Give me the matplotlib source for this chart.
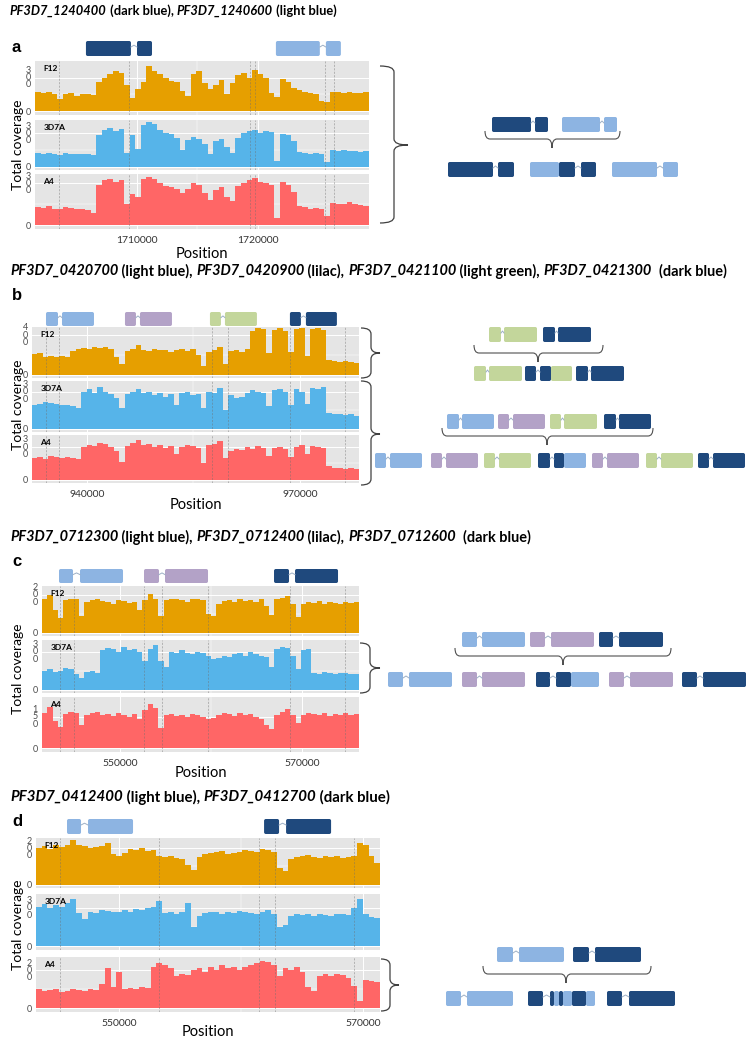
import numpy as np
import matplotlib.pyplot as plt
from matplotlib.patches import FancyBboxPatch, PathPatch
from matplotlib.path import Path

plt.rcParams['font.family'] = ['Lato', 'DejaVu Sans']

# coverage profiles (F12, 3D7A, A4)
a_f12 = [170, 160, 175, 150, 110, 150, 160, 140, 155, 150, 145, 260, 300, 330, 360, 340, 230, 120, 200, 260,
         400, 360, 330, 300, 270, 260, 180, 140, 330, 360, 250, 200, 230, 280, 150, 250, 320, 340, 300, 370,
         330, 300, 160, 130, 290, 260, 210, 190, 170, 160, 150, 90, 80, 170, 175, 165, 170, 160, 165, 170]
a_3d7a = [120, 115, 125, 110, 105, 120, 115, 110, 115, 110, 105, 280, 330, 350, 320, 340, 120, 280, 160, 370,
          400, 380, 330, 300, 290, 260, 150, 240, 270, 250, 200, 110, 230, 250, 180, 120, 260, 300, 320, 330,
          300, 320, 310, 50, 290, 280, 230, 130, 120, 110, 125, 110, 40, 150, 145, 150, 140, 145, 135, 140]
a_a4 = [130, 125, 135, 120, 115, 130, 125, 120, 120, 110, 90, 290, 320, 330, 310, 320, 150, 220, 200, 330,
        345, 330, 300, 280, 270, 260, 230, 260, 300, 290, 230, 180, 250, 270, 200, 170, 280, 300, 320, 340,
        310, 300, 290, 55, 310, 290, 240, 140, 130, 120, 125, 115, 70, 160, 155, 150, 165, 150, 145, 140]

b_f12 = [210, 220, 180, 190, 175, 185, 180, 240, 260, 270, 260, 280, 265, 275, 260, 180, 110, 240, 260, 300,
         250, 240, 260, 250, 245, 230, 250, 260, 240, 255, 200, 90, 230, 250, 280, 110, 240, 250, 230, 260,
         440, 470, 460, 220, 450, 470, 440, 230, 460, 470, 190, 460, 470, 450, 150, 140, 130, 135, 125, 120]
b_3d7a = [190, 200, 220, 210, 200, 190, 195, 180, 170, 300, 320, 290, 340, 300, 280, 250, 170, 280, 300, 320,
          290, 300, 270, 290, 260, 280, 190, 290, 300, 270, 280, 170, 300, 290, 330, 150, 270, 250, 260, 290,
          310, 300, 290, 180, 310, 320, 300, 190, 320, 300, 200, 330, 320, 340, 130, 120, 115, 110, 120, 105]
b_a4 = [200, 210, 190, 220, 205, 200, 210, 195, 190, 300, 320, 310, 340, 330, 300, 260, 160, 310, 340, 360,
        320, 330, 300, 320, 290, 310, 240, 300, 320, 310, 290, 150, 320, 330, 350, 200, 260, 280, 270, 300,
        280, 310, 290, 220, 290, 300, 280, 210, 300, 320, 240, 310, 300, 290, 130, 110, 105, 100, 110, 95]

c_f12 = [180, 200, 120, 80, 170, 180, 175, 90, 160, 170, 180, 165, 160, 150, 170, 165, 155, 160, 120, 170,
         205, 180, 90, 170, 180, 175, 170, 160, 180, 175, 170, 100, 90, 150, 165, 170, 160, 175, 165, 170,
         160, 175, 140, 95, 175, 185, 195, 150, 85, 150, 160, 155, 165, 150, 160, 155, 150, 160, 155, 160]
c_3d7a = [150, 160, 140, 150, 170, 165, 120, 95, 140, 150, 130, 310, 330, 320, 300, 340, 310, 320, 300, 230,
          320, 350, 230, 180, 300, 290, 310, 290, 280, 300, 290, 270, 240, 250, 270, 260, 280, 290, 270, 300,
          280, 270, 260, 180, 320, 340, 330, 270, 160, 310, 320, 130, 120, 140, 130, 125, 135, 130, 120, 125]
c_a4 = [170, 195, 130, 100, 165, 175, 170, 110, 160, 170, 175, 160, 165, 155, 170, 160, 150, 165, 140, 180,
        210, 190, 95, 160, 165, 155, 160, 150, 165, 160, 150, 140, 145, 160, 170, 165, 155, 170, 160, 165,
        150, 140, 110, 90, 160, 175, 185, 160, 120, 160, 170, 165, 160, 170, 155, 165, 160, 170, 160, 165]

d_f12 = [200, 210, 195, 220, 205, 215, 245, 215, 210, 200, 205, 210, 230, 170, 160, 175, 195, 190, 200, 185,
         190, 160, 150, 155, 145, 140, 110, 80, 150, 170, 175, 180, 185, 170, 175, 180, 190, 185, 180, 195,
         190, 180, 90, 75, 140, 150, 160, 165, 150, 145, 155, 150, 160, 145, 150, 155, 230, 220, 160, 120]
d_3d7a = [310, 330, 300, 320, 310, 340, 370, 260, 210, 270, 260, 280, 275, 265, 270, 280, 270, 290, 280, 300,
          310, 350, 260, 270, 250, 265, 340, 150, 240, 260, 270, 265, 250, 270, 260, 275, 265, 260, 255, 270,
          280, 250, 150, 170, 240, 250, 245, 255, 240, 250, 245, 240, 255, 250, 245, 300, 370, 250, 230, 220]
d_a4 = [100, 90, 95, 100, 85, 90, 100, 95, 90, 100, 95, 130, 210, 110, 190, 100, 105, 100, 110, 105,
        220, 240, 230, 210, 170, 180, 175, 200, 210, 190, 220, 200, 230, 210, 220, 200, 215, 230, 240, 250,
        245, 230, 170, 210, 200, 215, 190, 110, 90, 170, 180, 170, 180, 175, 160, 120, 40, 150, 145, 140]

# axis ranges, ticks and gene models (genomic coordinates)
a_xlim = (1701570, 1729174)
b_xlim = (932254, 978310)
c_xlim = (541428, 576264)
d_xlim = (543194, 571394)
a_xticks = [1710000, 1720000]
b_xticks = [940000, 970000]
c_xticks = [550000, 570000]
d_xticks = [550000, 570000]
a_ytops, a_yticks = [446, 418, 365], [300, 300, 300]
b_ytops, b_yticks = [480, 387, 409], [400, 300, 300]
c_ytops, c_yticks = [246, 393, 244], [200, 300, 150]
d_ytops, d_yticks = [256, 408, 270], [200, 300, 200]

a_genes = [(1705780, 1709500, 'D'), (1710000, 1711240, 'D'), (1721480, 1725110, 'L'), (1725610, 1726850, 'L')]
b_genes = [(934225, 935915, 'L'), (936478, 940984, 'L'), (945348, 946897, 'P'), (947460, 951966, 'P'),
           (957316, 958865, 'G'), (959429, 963934, 'G'), (968580, 970129, 'D'), (970833, 975198, 'D')]
c_genes = [(543296, 544835, 'L'), (545604, 550330, 'L'), (552638, 554286, 'P'), (554945, 559671, 'P'),
           (566925, 568573, 'D'), (569233, 573958, 'D')]
d_genes = [(545736, 546884, 'L'), (547458, 551148, 'L'), (561890, 563120, 'D'), (563694, 567384, 'D')]

a_vlines = [1703550, 1709340, 1719330, 1719750, 1725530, 1726270]
b_vlines = [934230, 936060, 957600, 959850, 968580, 976320]
c_vlines = [543410, 544950, 552640, 554620, 559670, 568680, 574730]
d_vlines = [545160, 553280, 561480, 562790, 569270]

a_title = [('PF3D7_1240400', 'italic'), (' (dark blue), ', 'normal'), ('PF3D7_1240600', 'italic'),
           (' (light blue)', 'normal')]
b_title = [('PF3D7_0420700', 'italic'), (' (light blue), ', 'normal'), ('PF3D7_0420900', 'italic'),
           (' (lilac), ', 'normal'), ('PF3D7_0421100', 'italic'), (' (light green), ', 'normal'),
           ('PF3D7_0421300', 'italic'), ('  (dark blue)', 'normal')]
c_title = [('PF3D7_0712300', 'italic'), (' (light blue), ', 'normal'), ('PF3D7_0712400', 'italic'),
           (' (lilac), ', 'normal'), ('PF3D7_0712600', 'italic'), ('  (dark blue)', 'normal')]
d_title = [('PF3D7_0412400', 'italic'), (' (light blue), ', 'normal'), ('PF3D7_0412700', 'italic'),
           (' (dark blue)', 'normal')]

strains = ['F12', '3D7A', 'A4']

# schematic recombinant gene diagrams on the right (row top, exons)
a_diagram = [(117, [(492, 531, 'D'), (535, 548, 'D'), (562, 600, 'L'), (604, 617, 'L')]),
             (162, [(448, 493, 'D'), (498, 514, 'D'), (530, 559, 'L'), (559, 575, 'D'), (581, 596, 'D'),
                    (612, 657, 'L'), (663, 678, 'L')])]
b_diagram = [(327, [(489, 501, 'G'), (504, 537, 'G'), (543, 555, 'D'), (558, 591, 'D')]),
             (366, [(474, 486, 'G'), (489, 522, 'G'), (525, 536, 'D'), (540, 551, 'D'), (551, 572, 'G'),
                    (576, 588, 'D'), (591, 624, 'D')]),
             (414, [(447, 459, 'L'), (462, 494, 'L'), (498, 509, 'P'), (513, 545, 'P'), (550, 561, 'G'),
                    (564, 597, 'G'), (604, 616, 'D'), (619, 651, 'D')]),
             (453, [(375, 386, 'L'), (390, 422, 'L'), (431, 442, 'P'), (446, 478, 'P'), (484, 495, 'G'),
                    (499, 531, 'G'), (538, 550, 'D'), (554, 564, 'D'), (564, 586, 'L'), (592, 603, 'P'),
                    (607, 639, 'P'), (646, 657, 'G'), (661, 693, 'G'), (698, 709, 'D'), (713, 745, 'D')])]
c_diagram = [(632, [(462, 477, 'L'), (482, 525, 'L'), (530, 545, 'P'), (551, 594, 'P'), (599, 613, 'D'),
                    (619, 663, 'D')]),
             (672, [(388, 403, 'L'), (409, 452, 'L'), (462, 477, 'P'), (482, 525, 'P'), (536, 550, 'D'),
                    (556, 571, 'D'), (571, 599, 'L'), (609, 624, 'P'), (630, 673, 'P'), (682, 697, 'D'),
                    (703, 746, 'D')])]
d_diagram = [(947, [(497, 513, 'L'), (519, 564, 'L'), (573, 589, 'D'), (595, 641, 'D')]),
             (991, [(446, 461, 'L'), (467, 513, 'L'), (528, 543, 'D'), (550, 554, 'D'), (554, 559, 'L'),
                    (559, 563, 'D'), (563, 572, 'L'), (572, 586, 'D'), (586, 595, 'L'), (607, 622, 'D'),
                    (629, 675, 'D')])]
# brackets under the parental row: x0, x1, top, tip x
a_brackets = [(485, 620, 131, 552)]
b_brackets = [(474, 603, 345, 538), (442, 653, 428, 547)]
c_brackets = [(455, 671, 648, 563)]
d_brackets = [(483, 651, 966, 566)]
# braces next to the tracks: x0, y0, y1, tip y, width, tip length
a_braces = [(380, 66, 223, 145, 14, 14)]
b_braces = [(361, 328, 378, 353, 10, 9), (361, 381, 485, 434, 10, 9)]
c_braces = [(360, 643, 693, 668, 10, 10)]
d_braces = [(381, 959, 1011, 985, 9, 9)]

gene_col = {'D': '#1F497D', 'L': '#8DB4E2', 'P': '#B3A2C7', 'G': '#C3D69B'}
track_col = ['#E69F00', '#56B4E9', '#FF6666']

W, H = 746, 1040
fig = plt.figure(figsize=(W / 100, H / 100), dpi=100)
over = fig.add_axes([0, 0, 1, 1])
over.set_xlim(0, W)
over.set_ylim(H, 0)
over.axis('off')


def px_axes(x0, y0, x1, y1):
    return fig.add_axes([x0 / W, 1 - y1 / H, (x1 - x0) / W, (y1 - y0) / H])


def vbrace(x0, y0, y1, ym, w, tip):
    r = 6
    xs = x0 + w
    verts = [(x0, y0), (xs, y0), (xs, y0 + r), (xs, ym - r), (xs, ym), (xs + tip, ym),
             (xs, ym), (xs, ym + r), (xs, y1 - r), (xs, y1), (x0, y1)]
    codes = [Path.MOVETO, Path.CURVE3, Path.CURVE3, Path.LINETO, Path.CURVE3, Path.CURVE3,
             Path.CURVE3, Path.CURVE3, Path.LINETO, Path.CURVE3, Path.CURVE3]
    over.add_patch(PathPatch(Path(verts, codes), fill=False, ec='#404040', lw=0.9))


def hbrace(x0, x1, y0, xm, h=8, tip=9):
    r = 5
    ys = y0 + h
    verts = [(x0, y0), (x0, ys), (x0 + r, ys), (xm - r, ys), (xm, ys), (xm, ys + tip),
             (xm, ys), (xm + r, ys), (x1 - r, ys), (x1, ys), (x1, y0)]
    codes = [Path.MOVETO, Path.CURVE3, Path.CURVE3, Path.LINETO, Path.CURVE3, Path.CURVE3,
             Path.CURVE3, Path.CURVE3, Path.LINETO, Path.CURVE3, Path.CURVE3]
    over.add_patch(PathPatch(Path(verts, codes), fill=False, ec='#505050', lw=0.8))


def draw_row(top, exons, h=15):
    prev = None
    for x0, x1, key in exons:
        over.add_patch(FancyBboxPatch((x0, top), x1 - x0, h, boxstyle='round,pad=0,rounding_size=1.8',
                                      fc=gene_col[key], ec='none'))
        if prev is not None and prev[2] == key and x0 > prev[1]:
            mid = (prev[1] + x0) / 2
            over.plot([prev[1], mid, x0], [top + 6, top + 4, top + 6], color='#9DB0C6', lw=0.7)
        prev = (x0, x1, key)


def rich_title(x, y, parts, size=10):
    rend = fig.canvas.get_renderer()
    for txt, style in parts:
        t = over.text(x, y, txt, fontsize=size, fontweight='bold', fontstyle=style,
                      va='center', ha='left', color='black')
        x += t.get_window_extent(renderer=rend).width


def gene_strip(xr, top, bot, xlim, genes):
    ax = px_axes(xr[0], top, xr[1], bot)
    ax.set_xlim(*xlim)
    ax.set_ylim(0, 1)
    ax.axis('off')
    bpp = (xlim[1] - xlim[0]) / (xr[1] - xr[0])
    rs = 1.8 * bpp
    asp = (1.8 / (bot - top)) / rs
    prev = None
    for s, e, key in genes:
        ax.add_patch(FancyBboxPatch((s, 0), e - s, 1, boxstyle=f'round,pad=0,rounding_size={rs}',
                                    mutation_aspect=asp, fc=gene_col[key], ec='none'))
        if prev is not None and prev[2] == key:
            ax.plot([prev[1], (prev[1] + s) / 2, s], [0.6, 0.72, 0.6], color='#9DB0C6', lw=0.7)
        prev = (s, e, key)


def draw_panel(letter, title, title_xy, title_size, letter_y, xr, rows, strip, xlim, covs, ytops, yticks,
               xticks, genes, vlines, pos_y, diagram, brackets, braces):
    rich_title(title_xy[0], title_xy[1], title, title_size)
    over.text(12, letter_y, letter, fontsize=12, fontweight='bold', family='Liberation Sans',
              va='center', ha='left')
    gene_strip(xr, strip[0], strip[1], xlim, genes)
    for i, (top, bot) in enumerate(rows):
        ax = px_axes(xr[0], top, xr[1], bot)
        edges = np.linspace(xlim[0], xlim[1], len(covs[i]) + 1)
        ax.stairs(covs[i], edges, fill=True, color=track_col[i], lw=0, zorder=2)
        ax.set_xlim(*xlim)
        ax.set_ylim(-0.07 * ytops[i], ytops[i])
        ax.set_facecolor('#E5E5E5')
        for sp in ax.spines.values():
            sp.set_visible(False)
        ax.set_axisbelow(True)
        ax.set_xticks(xticks)
        ax.set_xticks([(xticks[0] + xticks[1]) / 2], minor=True)
        ax.set_yticks([0, yticks[i]])
        ax.set_yticks([yticks[i] / 2], minor=True)
        ax.set_yticklabels(['0', '\n'.join(str(yticks[i]))], linespacing=0.75, fontsize=6.5,
                           color='#4D4D4D')
        ax.grid(which='major', color='white', lw=0.7)
        ax.grid(which='minor', color='white', lw=0.35)
        ax.tick_params(which='both', length=0, pad=2)
        ax.tick_params(axis='y', pad=3)
        for v in vlines:
            ax.axvline(v, color='#6E6E6E', lw=0.5, ls=(0, (3, 2)), alpha=0.6, zorder=3)
        ax.annotate(strains[i], xy=(0, 1), xycoords='axes fraction', xytext=(6, -3),
                    textcoords='offset points', va='top', ha='left', fontsize=6, fontweight='bold')
        if i == 2:
            ax.set_xticklabels([str(t) for t in xticks], fontsize=7.5, color='#333333')
            ax.tick_params(axis='x', pad=5)
        else:
            ax.set_xticklabels([])
    over.text(18, (rows[0][0] + rows[2][1]) / 2, 'Total coverage', rotation=90, fontsize=10,
              va='center', ha='center')
    over.text((xr[0] + xr[1]) / 2, pos_y, 'Position', fontsize=10.5, va='center', ha='center')
    for top, exons in diagram:
        draw_row(top, exons)
    for b in brackets:
        hbrace(*b)
    for x0, y0, y1, ym, w, tip in braces:
        vbrace(x0, y0, y1, ym, w, tip)


draw_panel('a', a_title, (10, 11), 9.3, 47, (35, 369), [(61, 115), (120, 170), (174, 229)], (41, 56),
           a_xlim, [a_f12, a_3d7a, a_a4], a_ytops, a_yticks, a_xticks, a_genes, a_vlines, 254,
           a_diagram, a_brackets, a_braces)
draw_panel('b', b_title, (10, 271), 10.45, 296, (32, 359), [(327, 378), (381, 432), (435, 483)], (312, 326),
           b_xlim, [b_f12, b_3d7a, b_a4], b_ytops, b_yticks, b_xticks, b_genes, b_vlines, 505,
           b_diagram, b_brackets, b_braces)
draw_panel('c', c_title, (10, 537), 10.45, 562, (42, 359), [(586, 636), (640, 693), (697, 752)], (569, 583),
           c_xlim, [c_f12, c_3d7a, c_a4], c_ytops, c_yticks, c_xticks, c_genes, c_vlines, 773,
           c_diagram, c_brackets, c_braces)
draw_panel('d', d_title, (10, 797), 10.8, 822, (36, 380), [(838, 888), (894, 950), (957, 1012)], (819, 834),
           d_xlim, [d_f12, d_3d7a, d_a4], d_ytops, d_yticks, d_xticks, d_genes, d_vlines, 1032,
           d_diagram, d_brackets, d_braces)

fig.savefig('out.png', dpi=100)
